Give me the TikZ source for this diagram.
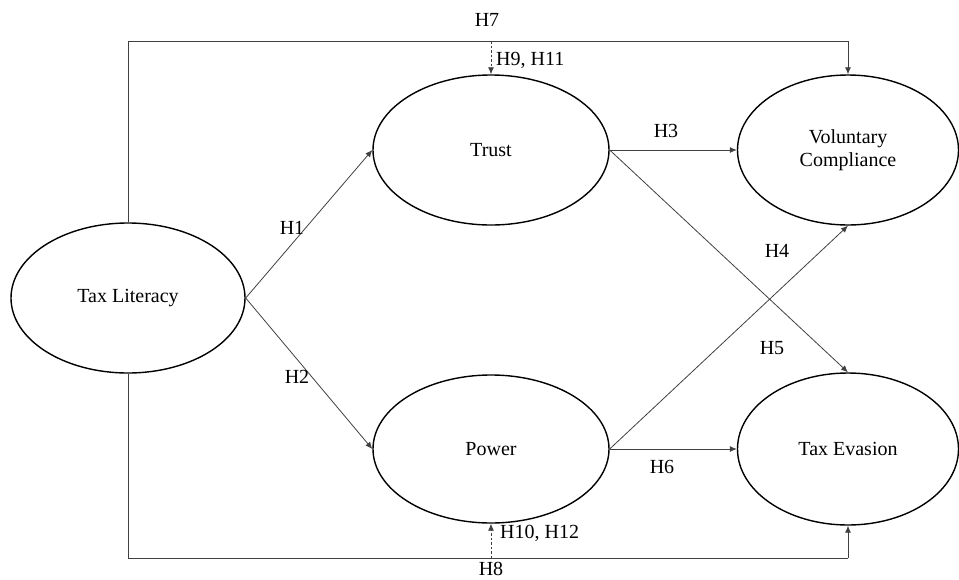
\documentclass[tikz,border=0pt]{standalone}
\usepackage{fontspec}
\setmainfont{Liberation Serif}
\usetikzlibrary{shapes.geometric,arrows.meta}
\begin{document}
\begin{tikzpicture}[x=1pt,y=-1pt,
  latent/.style={ellipse,draw=black,line width=1.4pt,inner sep=0pt,align=center,font=\fontsize{20}{23}\selectfont},
  path/.style={draw=black!75,line width=0.8pt,-{Latex[length=7pt,width=6pt]}},
  plain/.style={draw=black!75,line width=0.8pt},
  modpath/.style={draw=black!75,line width=0.8pt,dashed,dash pattern=on 2.5pt off 2pt,-{Latex[length=7pt,width=6pt]}},
  lbl/.style={font=\fontsize{20}{23}\selectfont,inner sep=1pt}]
\useasboundingbox (0,0) rectangle (959,579);
\node[latent,minimum width=234pt,minimum height=150pt] (TL) at (128,298) {Tax Literacy};
\node[latent,minimum width=236pt,minimum height=150pt] (TR) at (491,150) {Trust};
\node[latent,minimum width=236pt,minimum height=148pt] (PO) at (491,449) {Power};
\node[latent,minimum width=221pt,minimum height=150pt] (VC) at (848,150) {Voluntary\\Compliance};
\node[latent,minimum width=221pt,minimum height=152pt] (TE) at (848,449) {Tax Evasion};
\coordinate (top) at (0,41);
\coordinate (bot) at (0,558);
% H7
\draw[plain] (TL.north) |- (VC.north |- top);
\draw[path] (VC.north |- top) -- (VC.north);
% H8
\draw[plain] (TL.south) |- (TE.south |- bot);
\draw[path] (TE.south |- bot) -- (TE.south);
% moderation
\draw[modpath] (TR.north |- top) -- (TR.north);
\draw[modpath] (PO.south |- bot) -- (PO.south);
% direct paths
\draw[path] (TL.east) -- (TR.west);
\draw[path] (TL.east) -- (PO.west);
\draw[path] (TR.east) -- (VC.west);
\draw[path] (PO.east) -- (TE.west);
\draw[path] (PO.east) -- (VC.south);
\draw[path] (TR.east) -- (TE.north);
% labels
\node[lbl] (l7) at (487,20) {H7};
\node[lbl] (l8) at (491,569) {H8};
\node[lbl,anchor=west] (l911) at (495,60) {H9, H11};
\node[lbl,anchor=west] (l1012) at (499,533) {H10, H12};
\node[lbl] (l1) at (292,228) {H1};
\node[lbl] (l2) at (297,377) {H2};
\node[lbl] (l3) at (666,131) {H3};
\node[lbl] (l4) at (777,251) {H4};
\node[lbl] (l5) at (772,348) {H5};
\node[lbl] (l6) at (662,467) {H6};
\end{tikzpicture}
\end{document}
